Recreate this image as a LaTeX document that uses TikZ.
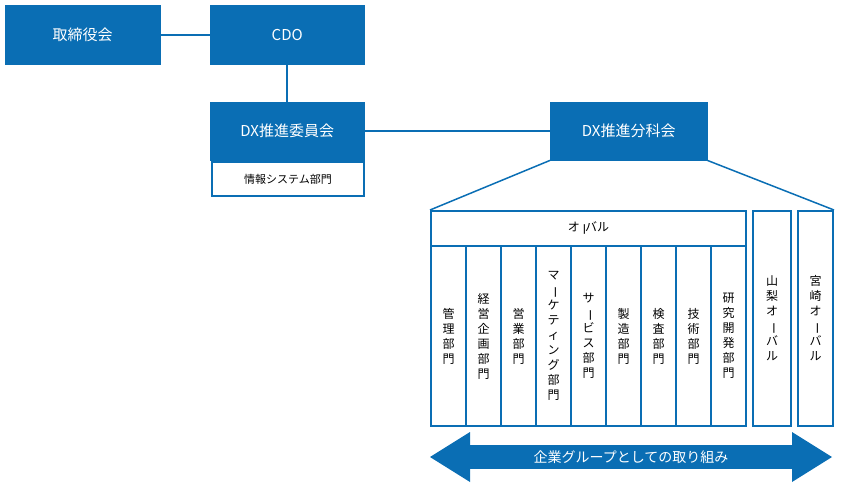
\documentclass[tikz,border=0pt]{standalone}
\usepackage{fontspec}
\setmainfont{Noto Sans CJK JP}
\usepackage{graphicx}
\usetikzlibrary{positioning, shapes.arrows}
\definecolor{dxblue}{HTML}{0A6EB4}
\newcommand{\vbar}{\rotatebox[origin=c]{-90}{ー}}
\tikzset{
  blue box/.style={fill=dxblue, draw=dxblue, text=white, anchor=north west, font=\fontsize{15}{18}\selectfont, inner sep=0pt},
  white box/.style={fill=white, draw=dxblue, line width=2pt, anchor=north west, inner sep=0pt, font=\fontsize{11}{13}\selectfont},
  dept/.style={white box, minimum width=35pt, minimum height=180pt, font=\fontsize{12}{15}\selectfont, align=center},
  link/.style={draw=dxblue, line width=2pt}
}
\begin{document}
\begin{tikzpicture}[x=1pt, y=-1pt]
\useasboundingbox (0,0) rectangle (842,483);
    % top level
    \node[blue box, minimum width=155pt, minimum height=59pt] (board) at (5,5) {取締役会};
    \node[blue box, minimum width=154pt, minimum height=59pt] (cdo) at (210,5) {CDO};
    \node[blue box, minimum width=154pt, minimum height=58pt] (comm) at (210,102) {DX推進委員会};
    \node[white box, minimum width=152pt, minimum height=34pt] (is) at (211,161) {情報システム部門};
    \node[blue box, minimum width=157pt, minimum height=58pt] (sub) at (550,102) {DX推進分科会};

    \path[link] (board) -- (cdo);
    \path[link] (cdo) -- (comm);
    \path[link] (comm) -- (sub);

    % group
    \node[white box, minimum width=315pt, minimum height=35pt, font=\fontsize{12}{14}\selectfont] (oval) at (430,210) {オ\vbar バル};
    \foreach \i/\t in {0/{管\\理\\部\\門}, 1/{経\\営\\企\\画\\部\\門}, 2/{営\\業\\部\\門},
        3/{マ\\\vbar\\ケ\\テ\\ィ\\ン\\グ\\部\\門}, 4/{サ\\\vbar\\ビ\\ス\\部\\門}, 5/{製\\造\\部\\門},
        6/{検\\査\\部\\門}, 7/{技\\術\\部\\門}, 8/{研\\究\\開\\発\\部\\門}}
        \node[dept] (d\i) at (430+35*\i,245) {\t};
    \node[dept, minimum width=38pt, minimum height=215pt] (yam) at (752,210) {山\\梨\\オ\\\vbar\\バ\\ル};
    \node[dept, minimum width=35pt, minimum height=215pt] (miy) at (797,210) {宮\\崎\\オ\\\vbar\\バ\\ル};

    \path[link, line width=1.5pt] (sub.south west) -- (oval.north west);
    \path[link, line width=1.5pt] (sub.south east) -- (miy.north east);

    % arrow
    \node[double arrow, fill=dxblue, text=white, minimum height=402pt, minimum width=50pt,
        double arrow head extend=7.5pt, double arrow tip angle=64, inner sep=0pt,
        font=\fontsize{14}{16}\selectfont] (effort) at (631,457) {企業グループとしての取り組み};
\end{tikzpicture}
\end{document}
